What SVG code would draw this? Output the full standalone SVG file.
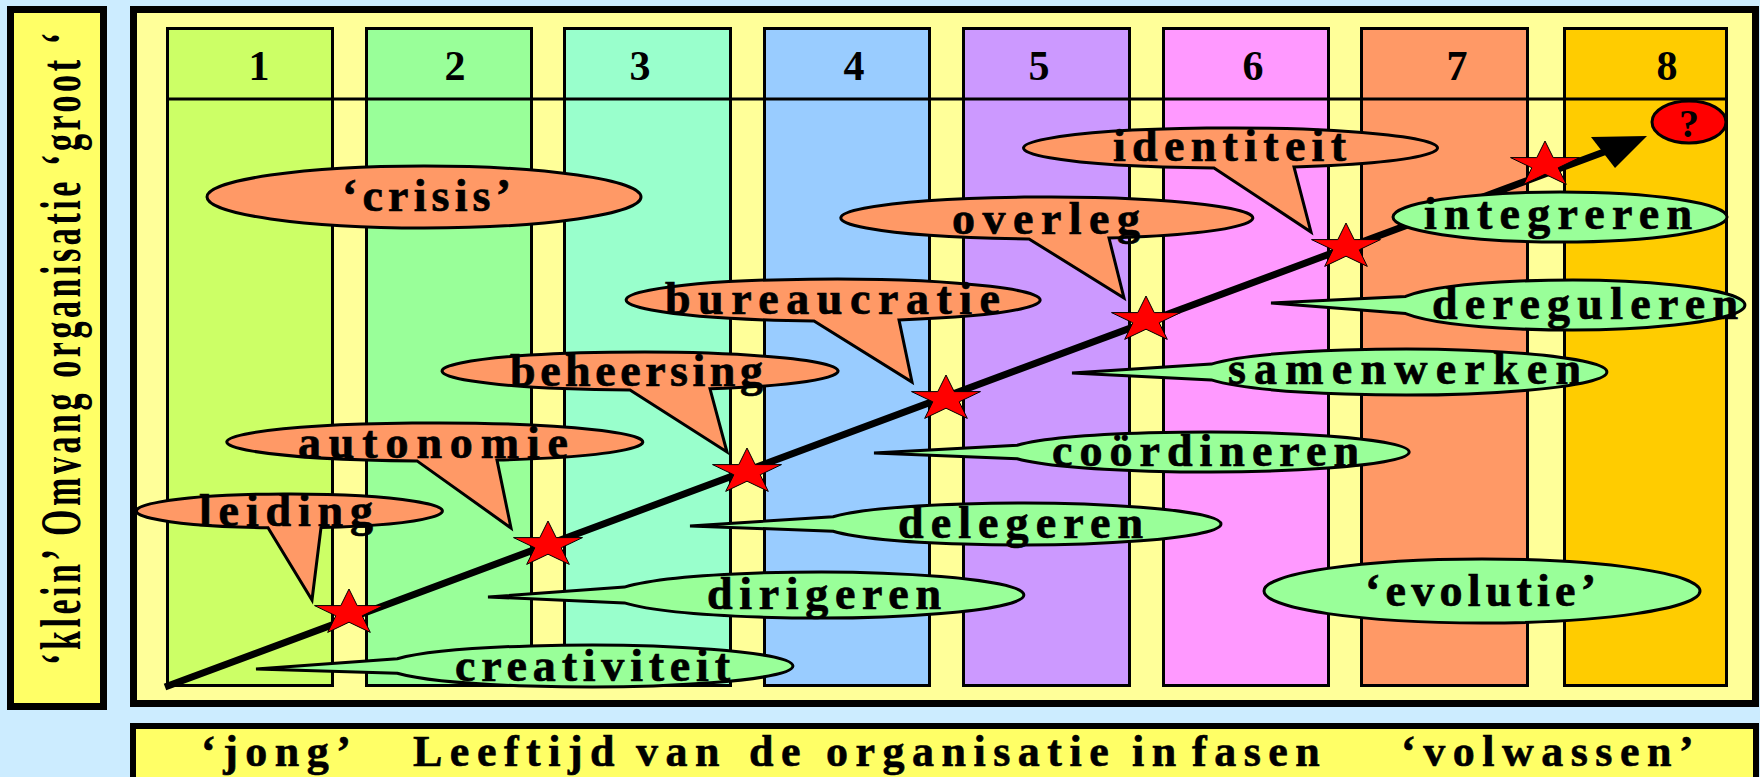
<svg xmlns="http://www.w3.org/2000/svg" width="1760" height="777" viewBox="0 0 1760 777">
<style>
.t{font-family:"Liberation Serif","Times New Roman",serif;font-weight:bold;fill:#000}
.cl{font-size:46px;stroke:#000;stroke-width:0.7}
.num{font-size:42px;text-anchor:middle}
.co{fill:#FF9966;stroke:#000;stroke-width:3}
.cg{fill:#99FF99;stroke:#000;stroke-width:3}
.col{stroke:#000;stroke-width:3}
.star{fill:#FF0000;stroke:#000;stroke-width:1}
</style>
<defs>
<polygon id="star" points="0,-24 8.2,-7.4 34.5,-7.4 13.2,2.8 21.3,19.4 0,9.2 -21.3,19.4 -13.2,2.8 -34.5,-7.4 -8.2,-7.4"/>
</defs>
<rect x="0" y="0" width="1760" height="777" fill="#CCECFF"/>
<g id="axis-y">
<rect x="10.5" y="9.5" width="93" height="697" fill="#FFFF66" stroke="#000" stroke-width="7"/>
<text class="t" font-size="34" transform="translate(80,665) rotate(-90) scale(1,1.7)" textLength="632" lengthAdjust="spacing">‘klein’ Omvang organisatie ‘groot ‘</text>
</g>
<g id="axis-x">
<rect x="133" y="726" width="1623" height="60" fill="#FFFF66" stroke="#000" stroke-width="6"/>
<text class="t" font-size="44" letter-spacing="7.5" stroke="#000" stroke-width="0.6" y="766"><tspan x="201">‘jong’</tspan><tspan x="413">Leeftijd</tspan><tspan x="636">van</tspan><tspan x="749">de</tspan><tspan x="826">organisatie</tspan><tspan x="1132">in</tspan><tspan x="1192">fasen</tspan><tspan x="1401">‘volwassen’</tspan></text>
</g>
<g id="frame">
<rect x="133.5" y="9.5" width="1622" height="694" fill="#FFFF99" stroke="#000" stroke-width="7"/>
</g>
<g id="phases">
<rect id="phase1" class="col" x="167.5" y="28.5" width="165" height="657" fill="#CCFF66"/>
<rect id="phase2" class="col" x="366.5" y="28.5" width="165" height="657" fill="#99FF99"/>
<rect id="phase3" class="col" x="564.5" y="28.5" width="166" height="657" fill="#99FFCC"/>
<rect id="phase4" class="col" x="764.5" y="28.5" width="165" height="657" fill="#99CCFF"/>
<rect id="phase5" class="col" x="963.5" y="28.5" width="166" height="657" fill="#CC99FF"/>
<rect id="phase6" class="col" x="1163.5" y="28.5" width="165" height="657" fill="#FF99FF"/>
<rect id="phase7" class="col" x="1361.5" y="28.5" width="166" height="657" fill="#FF9966"/>
<rect id="phase8" class="col" x="1564.5" y="28.5" width="162" height="657" fill="#FFCC00"/>
<line x1="166" y1="99" x2="1728" y2="99" stroke="#000" stroke-width="3"/>
<text class="t num" x="259" y="80">1</text>
<text class="t num" x="455" y="80">2</text>
<text class="t num" x="640" y="80">3</text>
<text class="t num" x="854" y="80">4</text>
<text class="t num" x="1039" y="80">5</text>
<text class="t num" x="1253" y="80">6</text>
<text class="t num" x="1457" y="80">7</text>
<text class="t num" x="1667" y="80">8</text>
</g>
<g id="connectors">
<line x1="165" y1="687" x2="1612" y2="149" stroke="#000" stroke-width="7"/>
<polygon points="1591,137 1647,136 1615,168" fill="#000"/>
</g>
<g id="stars">
<use href="#star" class="star" x="349" y="613"/>
<use href="#star" class="star" x="548" y="545"/>
<use href="#star" class="star" x="747" y="472"/>
<use href="#star" class="star" x="946" y="399"/>
<use href="#star" class="star" x="1146" y="320"/>
<use href="#star" class="star" x="1346" y="247"/>
<use href="#star" class="star" x="1545" y="165"/>
</g>
<g id="crisis">
<ellipse class="co" cx="424" cy="197" rx="217" ry="31"/>
<text class="t cl" x="342" y="211" textLength="169" lengthAdjust="spacing">‘crisis’</text>
</g>
<g id="leiding">
<path class="co" d="M321,527.6 A153,17 0 1 0 268,527.8 L312,600 Z"/>
<text class="t cl" x="199" y="526" textLength="174" lengthAdjust="spacing">leiding</text>
</g>
<g id="autonomie">
<path class="co" d="M497,460.1 A208,19 0 1 0 417,460.9 L511,528 Z"/>
<text class="t cl" x="298" y="458" textLength="270" lengthAdjust="spacing">autonomie</text>
</g>
<g id="beheersing">
<path class="co" d="M710,388.8 A198,19 0 1 0 630,390 L727,452 Z"/>
<text class="t cl" x="510" y="386" textLength="253" lengthAdjust="spacing">beheersing</text>
</g>
<g id="bureaucratie">
<path class="co" d="M899,319.9 A207,21 0 1 0 814,320.9 L912,382 Z"/>
<text class="t cl" x="665" y="314" textLength="335" lengthAdjust="spacing">bureaucratie</text>
</g>
<g id="overleg">
<path class="co" d="M1109,238 A206,21 0 1 0 1029,238.9 L1124,298 Z"/>
<text class="t cl" x="952" y="234" textLength="188" lengthAdjust="spacing">overleg</text>
</g>
<g id="identiteit">
<path class="co" d="M1294,167 A207,20 0 1 0 1214,167.9 L1311,232 Z"/>
<text class="t cl" x="1113" y="161" textLength="233" lengthAdjust="spacing">identiteit</text>
</g>
<g id="creativiteit">
<path class="cg" d="M397.3,658.8 A204,21 0 1 1 397.3,673.2 L256,669 Z"/>
<text class="t cl" x="455" y="681" textLength="275" lengthAdjust="spacing">creativiteit</text>
</g>
<g id="dirigeren">
<path class="cg" d="M624.4,587.1 A206,23 0 1 1 624.4,602.9 L488,597 Z"/>
<text class="t cl" x="707" y="609" textLength="234" lengthAdjust="spacing">dirigeren</text>
</g>
<g id="delegeren">
<path class="cg" d="M833.1,516.8 A200,21 0 1 1 833.1,531.2 L690,526 Z"/>
<text class="t cl" x="898" y="538" textLength="245" lengthAdjust="spacing">delegeren</text>
</g>
<g id="coordineren">
<path class="cg" d="M1017.2,445.2 A202,20 0 1 1 1017.2,458.8 L874,453 Z"/>
<text class="t cl" x="1052" y="466" textLength="307" lengthAdjust="spacing">coördineren</text>
</g>
<g id="samenwerken">
<path class="cg" d="M1211.3,364.1 A204,23 0 1 1 1211.3,379.9 L1072,373 Z"/>
<text class="t cl" x="1228" y="384" textLength="353" lengthAdjust="spacing">samenwerken</text>
</g>
<g id="dereguleren">
<path class="cg" d="M1405.6,296.4 A175,25 0 1 1 1405.6,313.6 L1271,303 Z"/>
<text class="t cl" x="1432" y="319" textLength="306" lengthAdjust="spacing">dereguleren</text>
</g>
<g id="integreren">
<ellipse class="cg" cx="1560" cy="217" rx="167" ry="25"/>
<text class="t cl" x="1424" y="229" textLength="268" lengthAdjust="spacing">integreren</text>
</g>
<g id="evolutie">
<ellipse class="cg" cx="1482" cy="591" rx="218" ry="32"/>
<text class="t cl" x="1365" y="606" textLength="231" lengthAdjust="spacing">‘evolutie’</text>
</g>
<g id="question">
<ellipse cx="1689" cy="122" rx="37" ry="21" fill="#FF0000" stroke="#000" stroke-width="3"/>
<text class="t" font-size="40" x="1689" y="137" text-anchor="middle">?</text>
</g>
</svg>
